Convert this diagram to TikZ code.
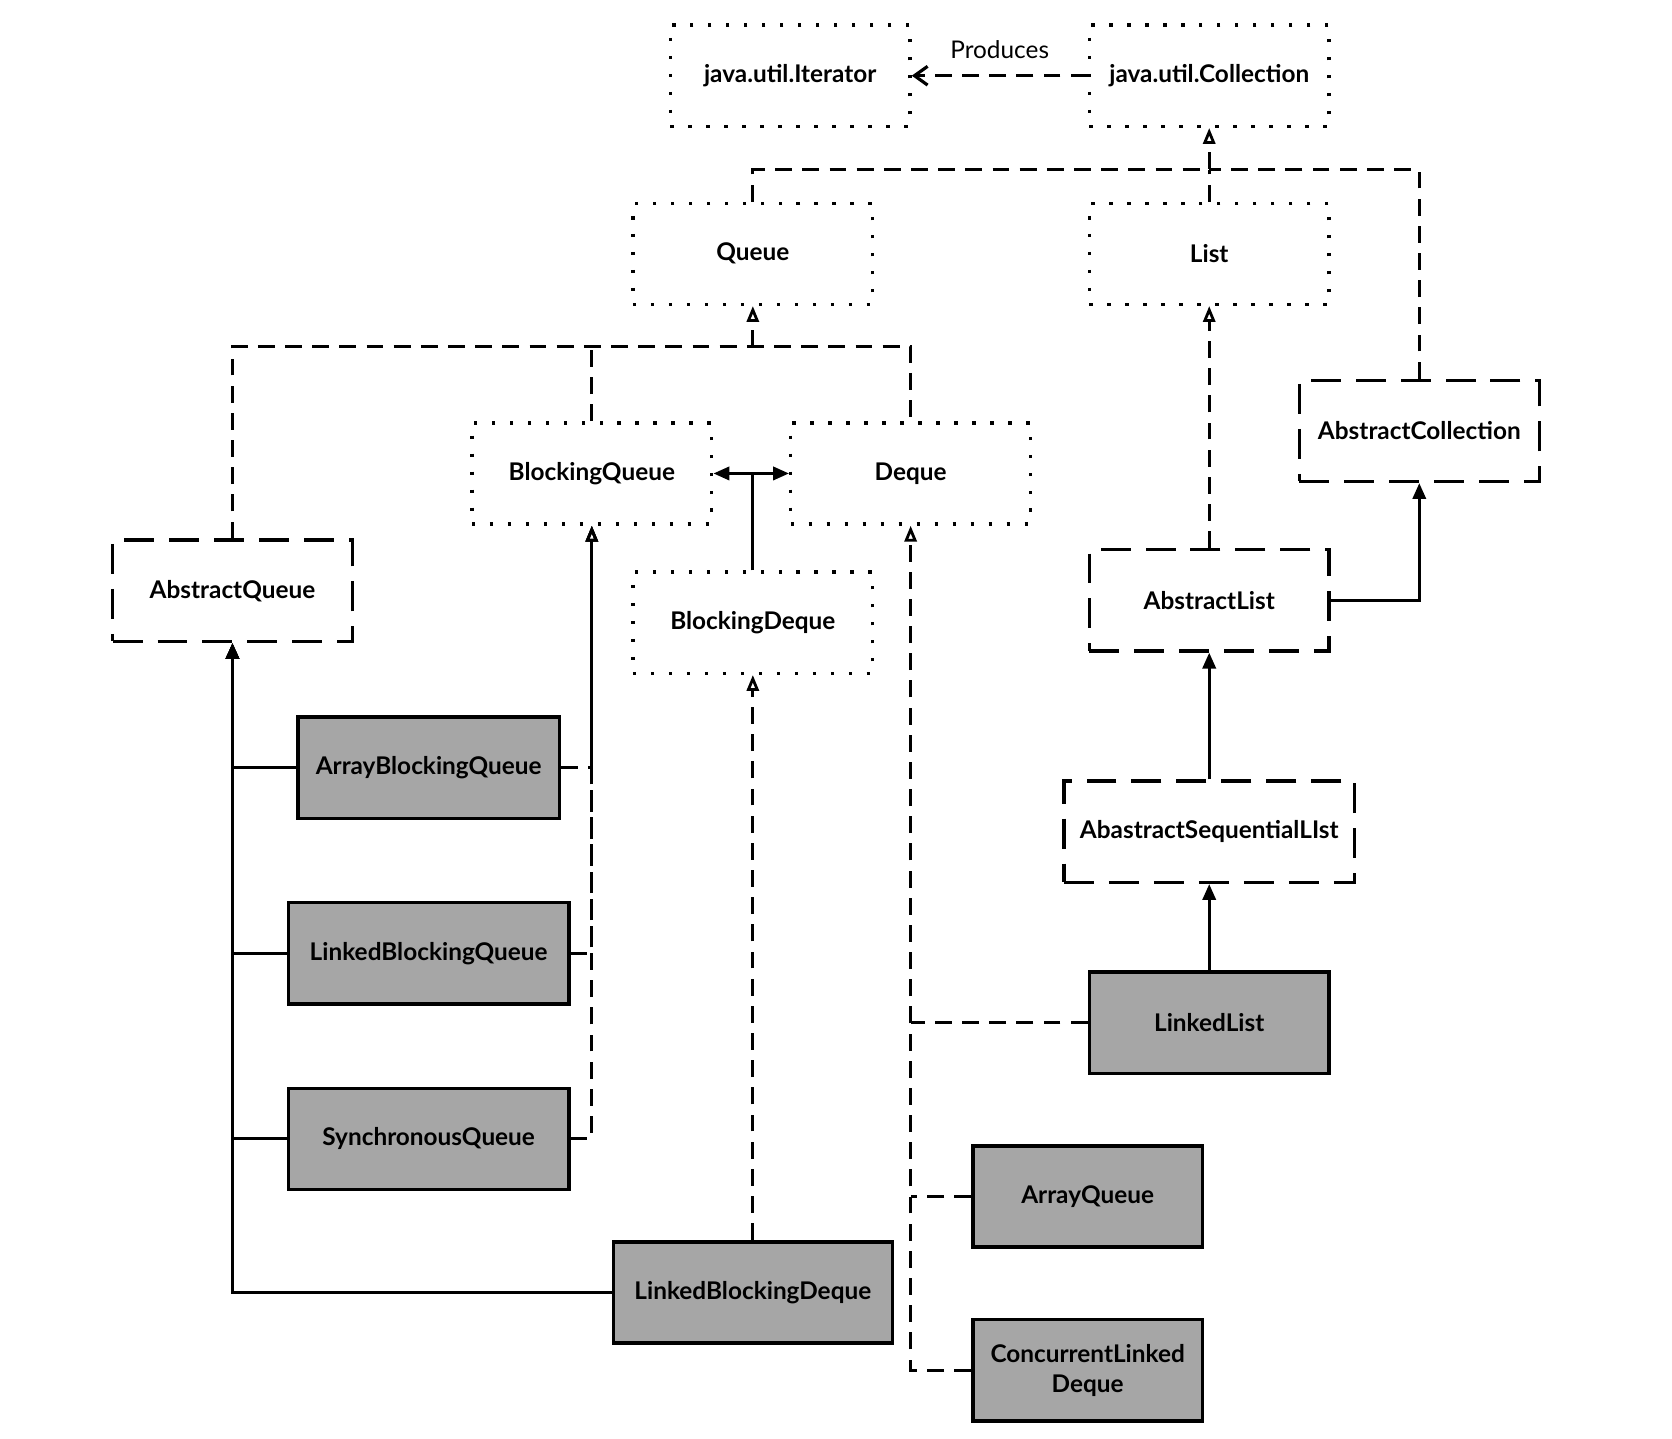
\documentclass[tikz,border=0pt]{standalone}
\usepackage{fontspec}
\setmainfont{Lato}
\usepackage{tikz}
\usetikzlibrary{arrows.meta,positioning,calc}

\definecolor{implgray}{RGB}{166,166,166}

\tikzset{
  box/.style={line width=1.8pt, minimum height=54pt, inner sep=2pt, align=center,
    font=\bfseries\fontsize{13}{16}\selectfont},
  iface/.style={box, draw, dash pattern=on 1.9pt off 7.7pt, minimum width=128pt},
  abstr/.style={box, draw, dash pattern=on 16pt off 8pt, minimum width=128pt},
  impl/.style={box, draw, fill=implgray},
  dep/.style={line width=1.7pt, dash pattern=on 9pt off 5.5pt},
  gen/.style={dep, -{Triangle[open,length=8.5pt,width=6.5pt,line width=1.5pt]}},
  ext/.style={line width=1.7pt, -{Triangle[length=8.5pt,width=7pt]}},
}

\begin{document}
\begin{tikzpicture}[x=0.02cm, y=-0.02cm]
\useasboundingbox (0,0) rectangle (1568,1349);

% interfaces
\node[iface] (iter) at (741,71) {java.util.Iterator};
\node[iface] (coll) at (1134,71) {java.util.Collection};
\node[iface] (queue) at (706,238) {Queue};
\node[iface] (list) at (1134,238) {List};
\node[iface] (bq) at (555,444) {BlockingQueue};
\node[iface] (deque) at (854,444) {Deque};
\node[iface] (bdeque) at (706,584) {BlockingDeque};

% abstract classes
\node[abstr] (acoll) at (1331,404) {AbstractCollection};
\node[abstr] (aq) at (218,554) {AbstractQueue};
\node[abstr] (alist) at (1134,563) {AbstractList};
\node[abstr, minimum width=155pt] (aseq) at (1134,780) {AbastractSequentialLIst};

% implementations
\node[impl, minimum width=139.5pt] (abq) at (402,720) {ArrayBlockingQueue};
\node[impl, minimum width=149.7pt] (lbq) at (402,894) {LinkedBlockingQueue};
\node[impl, minimum width=149.7pt] (sq) at (402,1068) {SynchronousQueue};
\node[impl, minimum width=149pt] (lbd) at (706,1212) {LinkedBlockingDeque};
\node[impl, minimum width=128pt] (llist) at (1134,959) {LinkedList};
\node[impl, minimum width=122.5pt] (aqueue) at (1020,1122) {ArrayQueue};
\node[impl, minimum width=122.5pt] (cld) at (1020,1285) {ConcurrentLinked\\Deque};

\coordinate (cbus) at (1134,159);
\coordinate (qbus) at (706,325);
\coordinate (bdj) at (bdeque.north |- bq.east);

\draw[dep, -{Straight Barb[length=7pt,width=10pt,line width=1.7pt]}]
  (coll.west) -- node[above=5pt, font=\fontsize{13}{15}\selectfont] {Produces} (iter.east);

\draw[gen] (queue.north) |- (cbus) -- (coll.south);
\draw[dep] (acoll.north) |- (cbus);
\draw[dep] (list.north) -- (cbus);

\draw[dep] (aq.north) |- (deque.north |- qbus) -- (deque.north);
\draw[dep] (bq.north) -- (bq.north |- qbus);
\draw[gen] (qbus) -- (queue.south);

\draw[ext] (bdeque.north) -- (bdj) -- (bq.east);
\draw[ext] (bdj) -- (deque.west);

\draw[gen] (alist.north) -- (list.south);
\draw[ext] (alist.east) -| (acoll.south);
\draw[ext] (aseq.north) -- (alist.south);
\draw[ext] (llist.north) -- (aseq.south);

\draw[gen] (cld.west) -| (deque.south);
\foreach \n in {llist,aqueue} \draw[dep] (\n.west) -- (\n.west -| deque.south);
\draw[gen] (lbd.north) -- (bdeque.south);

\foreach \n in {abq,lbq,sq,lbd} \draw[ext] (\n.west) -| (aq.south);
\foreach \n in {abq,lbq,sq} \draw[gen] (\n.east) -| (bq.south);
\end{tikzpicture}
\end{document}
